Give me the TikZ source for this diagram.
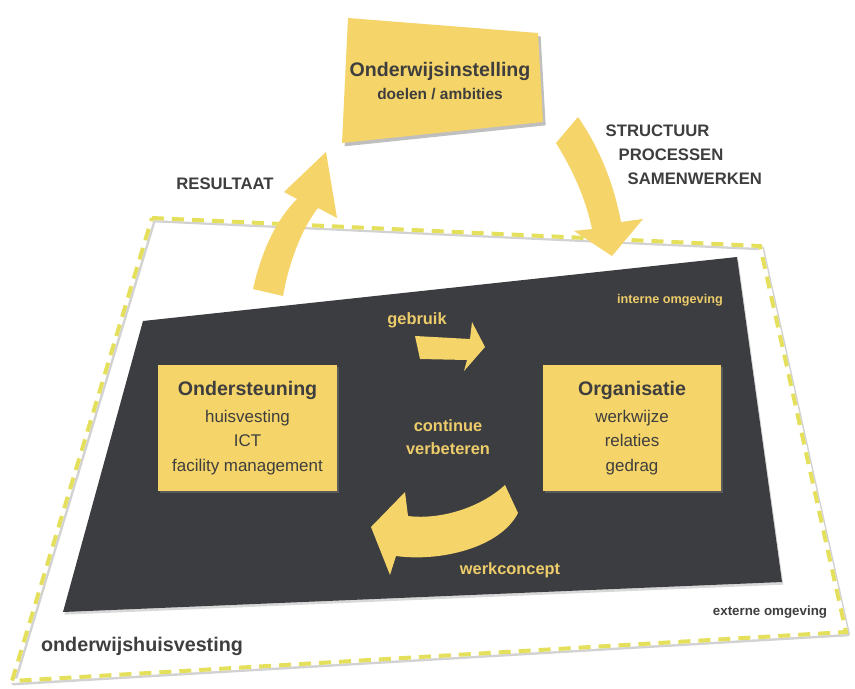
\documentclass[tikz,border=0pt]{standalone}
\usepackage{fontspec}
\setmainfont{Liberation Sans}
\usetikzlibrary{shadows,positioning}

\definecolor{geel}{HTML}{F5D469}
\definecolor{geeltekst}{HTML}{EDCC6B}
\definecolor{donker}{HTML}{3C3D40}
\definecolor{grijs}{HTML}{3E3E3E}
\definecolor{streep}{HTML}{E4E05C}
\newcommand{\kopfont}{\fontsize{14.7}{18.4}\selectfont\bfseries}

\begin{document}
\begin{tikzpicture}[x=0.75pt,y=-0.75pt,
    blok/.style={fill=geel, minimum width=134pt, minimum height=94pt, align=center,
                 text=grijs, font=\fontsize{12.7}{18.4}\selectfont,
                 drop shadow={shadow xshift=1.5pt, shadow yshift=-1.5pt, opacity=0.45}},
    hoofd/.style={text=grijs, font=\fontsize{12.5}{15}\selectfont\bfseries},
    binnen/.style={text=geeltekst, font=\fontsize{12.3}{14.5}\selectfont\bfseries, align=center},
    pijl/.style={fill=geel}]
  \fill[white] (0,0) rectangle (855,688);
  \useasboundingbox (0,0) rectangle (855,688);

  % buitenrand (externe omgeving)
  \draw[gray!35, line width=3.5pt, line join=round, xshift=1.2pt, yshift=-1.5pt]
    (152,218) -- (760,246) -- (846,632) -- (12,681) -- cycle;
  \draw[white, line width=3pt, line join=round]
    (152,218) -- (760,246) -- (846,632) -- (12,681) -- cycle;
  \draw[streep, line width=3pt, dash pattern=on 9pt off 6pt]
    (152,218) -- (760,246) -- (846,632) -- (12,681) -- cycle;

  % interne omgeving
  \fill[donker, drop shadow={shadow xshift=1pt, shadow yshift=-2pt, opacity=0.3}]
    (143,321) -- (737,257) -- (782,582) -- (63,612) -- cycle;

  % onderwijsinstelling
  \fill[geel, drop shadow={shadow xshift=2pt, shadow yshift=-2.5pt, opacity=0.5}]
    (348,18) -- (538,33) -- (543,122) -- (342,143) -- cycle;
  \node[text=grijs, font=\fontsize{14.7}{17}\selectfont\bfseries] (inst) at (440,71) {Onderwijsinstelling};
  \node[text=grijs, font=\fontsize{11.6}{14}\selectfont\bfseries, below=-1pt of inst] (doel) {doelen / ambities};

  % grote pijlen
  \fill[pijl] (253,289) .. controls (262,250) and (276,220) .. (297,199) -- (284,192)
    -- (326,152) -- (337,218) -- (318,208) .. controls (302,228) and (289,262) .. (283,296) -- cycle;
  \fill[pijl] (556,143) .. controls (574,172) and (586,200) .. (592,229) -- (574,231)
    -- (612,256) -- (643,219) -- (621,222) .. controls (613,180) and (598,146) .. (578,117) -- cycle;

  \node[hoofd] (res) at (225,184) {RESULTAAT};
  \node[hoofd, anchor=west] (str) at (601,131) {STRUCTUUR};
  \node[hoofd, anchor=west] (proc) at (614,155) {PROCESSEN};
  \node[hoofd, anchor=west] (samen) at (623,179) {SAMENWERKEN};

  % blokken
  \node[blok] (ond) at (247.5,428) {{\kopfont Ondersteuning}\\[1.5pt]huisvesting\\ICT\\facility management};
  \node[blok, right=154pt of ond] (org) {{\kopfont Organisatie}\\[1.5pt]werkwijze\\relaties\\gedrag};

  % kleine pijlen
  \fill[pijl] (415,336) -- (470,339) -- (472,322) -- (485,347) -- (464,371) -- (467,360) -- (420,359) -- cycle;
  \fill[pijl] (505,485) .. controls (480,508) and (440,520) .. (408,516) -- (405,492)
    -- (371,527) -- (390,575) -- (396,556) .. controls (440,562) and (500,548) .. (518,513) -- cycle;

  \node[binnen] (gebr) at (417,320) {gebruik};
  \node[binnen, font=\fontsize{12.3}{17}\selectfont\bfseries] (cont) at (448,437) {continue\\verbeteren};
  \node[binnen] (werk) at (510,570) {werkconcept};

  \node[text=geeltekst, font=\fontsize{9.5}{11}\selectfont\bfseries] (intern) at (670,300) {interne omgeving};
  \node[text=grijs, font=\fontsize{10}{12}\selectfont\bfseries] (extern) at (770,612) {externe omgeving};
  \node[text=grijs, font=\fontsize{14.8}{17}\selectfont\bfseries] (huis) at (142,646) {onderwijshuisvesting};
\end{tikzpicture}
\end{document}
